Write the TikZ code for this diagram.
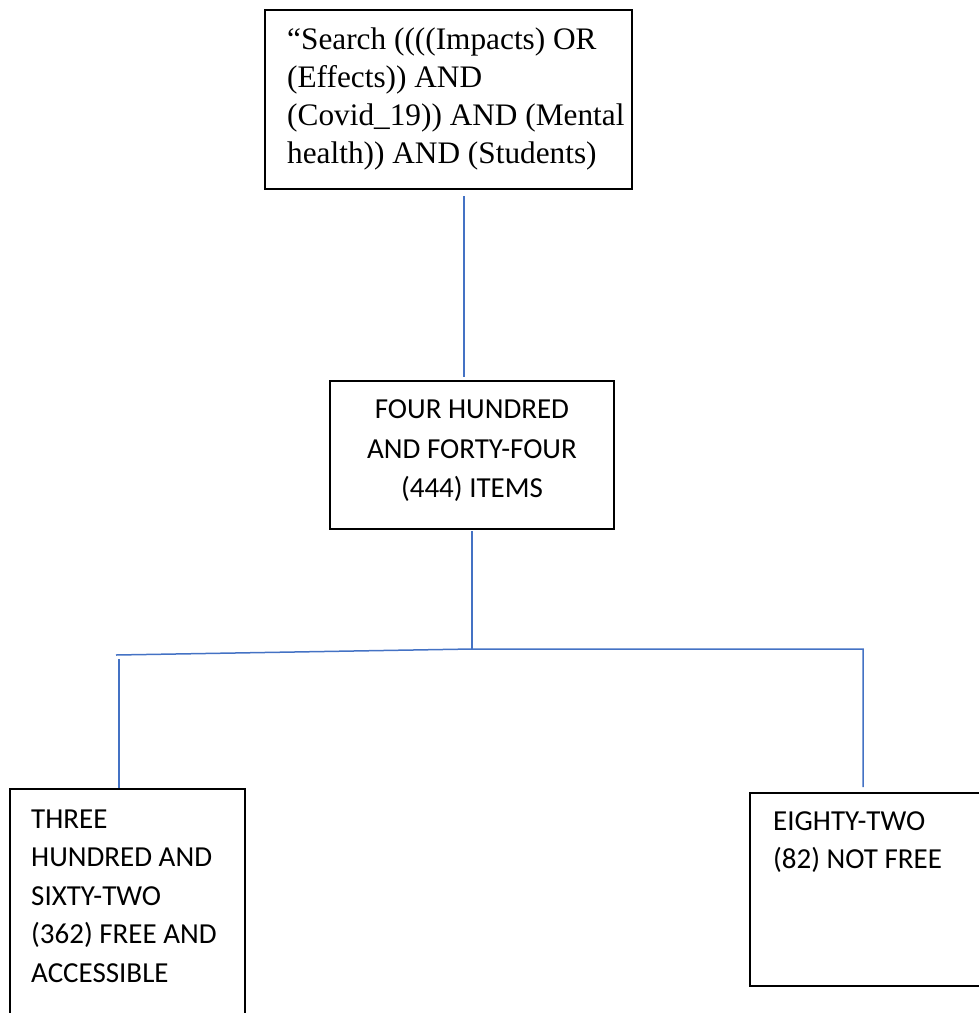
\documentclass[tikz,border=0pt]{standalone}
\usepackage{fontspec}
\setmainfont{Liberation Serif}
\newfontfamily\calib{Carlito}
\definecolor{linkblue}{RGB}{68,114,196}
\begin{document}
\begin{tikzpicture}[x=1pt,y=-1pt,
  boxst/.style={draw=black,line width=1.3pt,rectangle,inner sep=0pt,fill=white},
  serift/.style={font=\fontsize{31.3}{38}\selectfont,inner sep=0pt},
  sanst/.style={font=\calib\fontsize{29}{38}\selectfont,inner sep=0pt},
  link/.style={draw=linkblue,line width=1.5pt}]
\useasboundingbox (0,0) rectangle (979,1013);
\clip (0,0) rectangle (979,1013);
% boxes
\node[boxst,minimum width=367pt,minimum height=179pt] (q) at (448.5,99.5) {};
\node[boxst,minimum width=284pt,minimum height=148pt] (n) at (472,455) {};
\node[boxst,minimum width=235pt,minimum height=250pt] (f) at (127.5,914) {};
\node[boxst,minimum width=250pt,minimum height=193pt] (nf) at (875,889.5) {};
% texts
\node[serift,anchor=base west] (q1) at (287,49) {“Search ((((Impacts) OR};
\node[serift,anchor=base west] (q2) at (287,87) {(Effects)) AND};
\node[serift,anchor=base west] (q3) at (287,125) {(Covid\_19)) AND (Mental};
\node[serift,anchor=base west] (q4) at (287,163) {health)) AND (Students)};
\node[sanst,anchor=base] (n1) at (472,418) {FOUR HUNDRED};
\node[sanst,anchor=base] (n2) at (472,458) {AND FORTY-FOUR};
\node[sanst,anchor=base] (n3) at (472,497) {(444) ITEMS};
\node[sanst,anchor=base west] (f1) at (31,828) {THREE};
\node[sanst,anchor=base west] (f2) at (31,866) {HUNDRED AND};
\node[sanst,anchor=base west] (f3) at (31,905) {SIXTY-TWO};
\node[sanst,anchor=base west] (f4) at (31,943) {(362) FREE AND};
\node[sanst,anchor=base west] (f5) at (31,982) {ACCESSIBLE};
\node[sanst,anchor=base west] (nf1) at (773,830) {EIGHTY-TWO};
\node[sanst,anchor=base west] (nf2) at (773,868) {(82) NOT FREE};
% connector points
\coordinate (a1) at (464,196);
\coordinate (a2) at (464,377);
\coordinate (b1) at (472,531);
\coordinate (b2) at (472,649);
\coordinate (hl) at (116,655);
\coordinate (hr) at (863,649);
\coordinate (l1) at (119,659);
\coordinate (l2) at (119,788);
\coordinate (r2) at (863,787);
\draw[link] (a1) -- (a2);
\draw[link] (b1) -- (b2);
\draw[link] (hl) -- (b2) -- (hr) -- (r2);
\draw[link] (l1) -- (l2);
\end{tikzpicture}
\end{document}
